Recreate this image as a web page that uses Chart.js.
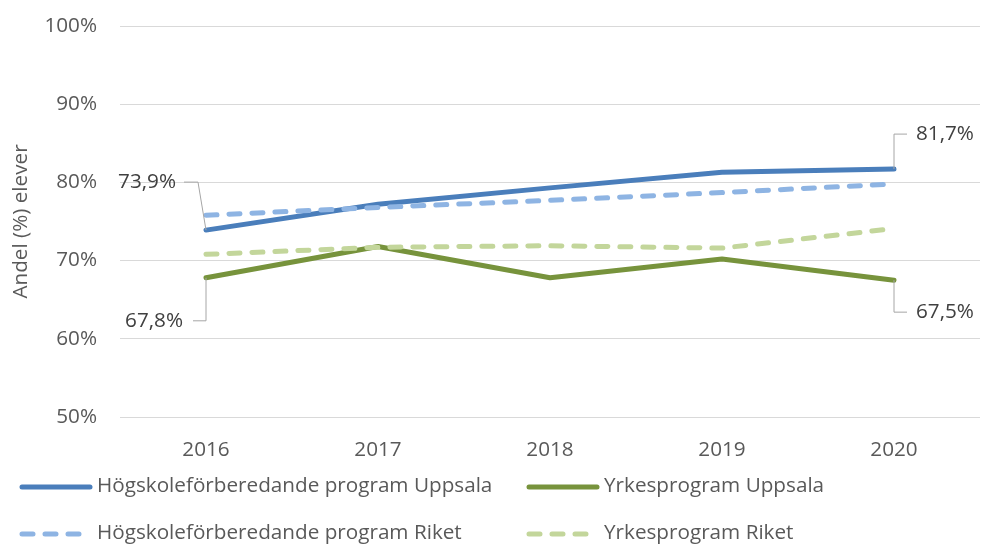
<!DOCTYPE html>
<html>
<head>
<meta charset="utf-8">
<script src="https://cdn.jsdelivr.net/npm/chart.js@4"></script>
<style>
  html, body { margin: 0; padding: 0; background: #fff; }
  #wrap { width: 981px; height: 544px; }
</style>
</head>
<body>
<div id="wrap"><canvas id="chart" width="981" height="544"></canvas></div>
<script>
const years = ["2016", "2017", "2018", "2019", "2020"];
const hogUppsala = [73.9, 77.2, 79.3, 81.3, 81.7];
const yrkUppsala = [67.8, 71.8, 67.8, 70.2, 67.5];
const hogRiket = [75.8, 76.8, 77.7, 78.7, 79.8];
const yrkRiket = [70.8, 71.7, 71.9, 71.6, 74.1];
const seriesNames = [
  "Högskoleförberedande program Uppsala",
  "Yrkesprogram Uppsala",
  "Högskoleförberedande program Riket",
  "Yrkesprogram Riket",
];

const FONT = "'Open Sans', sans-serif";
const FS = 20.7;
const DASH = [11, 12];

const fmt = (v) => v.toFixed(1).replace(".", ",") + "%";

// data labels on first / last point of the Uppsala lines, with leader lines
const labelPlugin = {
  id: "endLabels",
  afterDatasetsDraw(chart) {
    const ctx = chart.ctx;
    // [dataset index, point index, side, dy of label from point]
    const spots = [
      [0, 0, "left", -48],
      [1, 0, "left", 43],
      [0, 4, "right", -35],
      [1, 4, "right", 32],
    ];
    ctx.save();
    ctx.font = FS + "px " + FONT;
    ctx.textBaseline = "middle";
    spots.forEach(([di, pi, side, dy]) => {
      const pt = chart.getDatasetMeta(di).data[pi];
      const val = chart.data.datasets[di].data[pi];
      const ly = pt.y + dy;
      ctx.strokeStyle = "#a6a6a6";
      ctx.lineWidth = 1;
      ctx.beginPath();
      ctx.fillStyle = "#404040";
      if (side === "left" && dy < 0) {
        ctx.moveTo(pt.x, pt.y);
        ctx.lineTo(pt.x - 8, ly);
        ctx.lineTo(pt.x - 22, ly);
        ctx.stroke();
        ctx.textAlign = "right";
        ctx.fillText(fmt(val), pt.x - 30, ly);
      } else if (side === "left") {
        ctx.moveTo(pt.x, pt.y);
        ctx.lineTo(pt.x, ly);
        ctx.lineTo(pt.x - 13, ly);
        ctx.stroke();
        ctx.textAlign = "right";
        ctx.fillText(fmt(val), pt.x - 23, ly);
      } else {
        ctx.moveTo(pt.x, pt.y);
        ctx.lineTo(pt.x, ly);
        ctx.lineTo(pt.x + 13, ly);
        ctx.stroke();
        ctx.textAlign = "left";
        ctx.fillText(fmt(val), pt.x + 22, ly);
      }
    });
    ctx.restore();
  },
};

// two-column legend below the plot
const legendPlugin = {
  id: "gridLegend",
  afterDraw(chart) {
    const ctx = chart.ctx;
    const cells = [
      [0, 20, 487],
      [1, 527, 487],
      [2, 20, 534],
      [3, 527, 534],
    ];
    ctx.save();
    ctx.font = FS + "px " + FONT;
    ctx.textBaseline = "middle";
    ctx.textAlign = "left";
    cells.forEach(([di, x, y]) => {
      const ds = chart.data.datasets[di];
      ctx.strokeStyle = ds.borderColor;
      ctx.lineWidth = 5;
      ctx.lineCap = "round";
      ctx.setLineDash(ds.borderDash || []);
      ctx.beginPath();
      ctx.moveTo(x + 2, y);
      ctx.lineTo(x + 70, y);
      ctx.stroke();
      ctx.setLineDash([]);
      ctx.fillStyle = "#595959";
      ctx.fillText(ds.label, x + 77, y - 1);
    });
    ctx.restore();
  },
};

new Chart(document.getElementById("chart"), {
  type: "line",
  data: {
    labels: years,
    datasets: [
      { label: seriesNames[0], data: hogUppsala, borderColor: "#4a7ebb", order: 2 },
      { label: seriesNames[1], data: yrkUppsala, borderColor: "#77933c", order: 2 },
      { label: seriesNames[2], data: hogRiket, borderColor: "#8eb4e3", borderDash: DASH, order: 1 },
      { label: seriesNames[3], data: yrkRiket, borderColor: "#c3d69b", borderDash: DASH, order: 1 },
    ].map((d) => Object.assign({
      borderWidth: 5,
      borderCapStyle: "round",
      borderJoinStyle: "round",
      pointRadius: 0,
      pointHoverRadius: 0,
      tension: 0,
      fill: false,
    }, d)),
  },
  plugins: [labelPlugin, legendPlugin],
  options: {
    responsive: false,
    devicePixelRatio: 1,
    animation: false,
    layout: { padding: { top: 26, right: 1, bottom: 77, left: 0 } },
    plugins: {
      legend: { display: false },
      tooltip: { enabled: false },
    },
    scales: {
      x: {
        offset: true,
        grid: { display: false, drawTicks: false },
        border: { display: false },
        ticks: { color: "#595959", font: { family: FONT, size: FS }, padding: 21, maxRotation: 0 },
        afterFit: (s) => { s.height = 50; s.paddingLeft = 0; s.paddingRight = 0; },
      },
      y: {
        min: 50,
        max: 100,
        grid: { color: "#d9d9d9", lineWidth: 1, drawTicks: false },
        border: { display: false },
        ticks: {
          stepSize: 10,
          color: "#595959",
          font: { family: FONT, size: FS },
          padding: 23,
          callback: (v) => v + "%",
        },
        title: {
          display: true,
          text: "Andel (%) elever",
          color: "#595959",
          font: { family: FONT, size: FS },
          padding: { top: 9, bottom: 0 },
        },
        afterFit: (s) => { s.width = 120; s.paddingTop = 0; s.paddingBottom = 0; },
      },
    },
  },
});
</script>
</body>
</html>
